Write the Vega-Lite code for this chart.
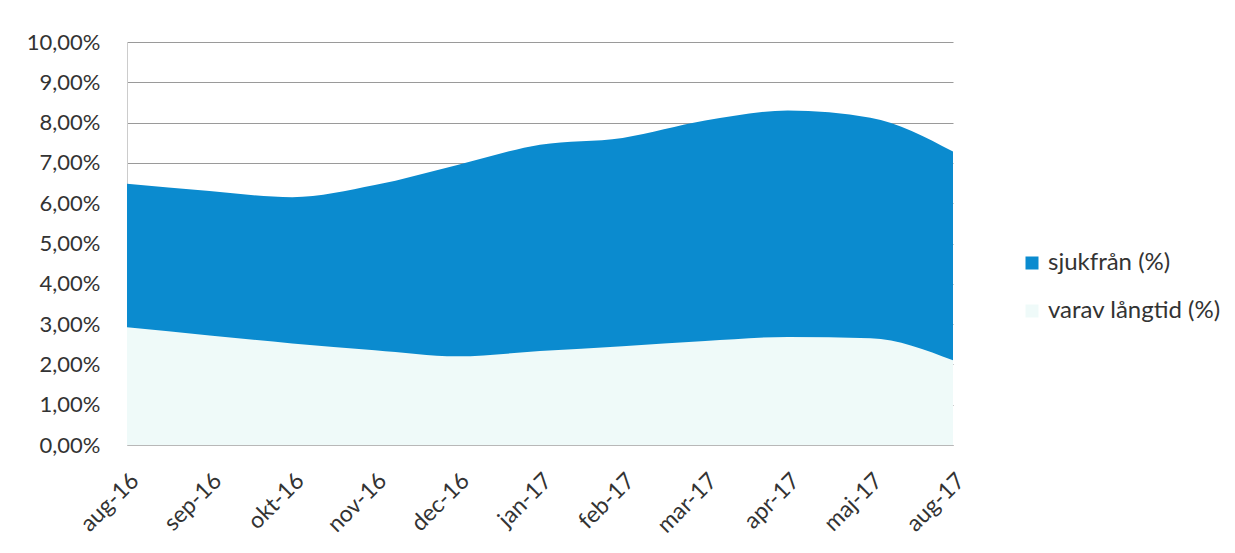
{
  "$schema": "https://vega.github.io/schema/vega-lite/v6.json",
  "autosize": {"type": "none"},
  "width": 826,
  "height": 403,
  "padding": {"left": 127, "top": 42, "right": 282, "bottom": 108},
  "background": "white",
  "config": {
    "font": "Lato",
    "view": {"stroke": null},
    "axis": {"labelFont": "Lato", "labelColor": "#333333", "labelFontSize": 22},
    "legend": {"padding": 0}
  },
  "data": {
    "values": [
      {"month": "aug-16", "series": "sjukfrån (%)", "value": 6.48},
      {"month": "sep-16", "series": "sjukfrån (%)", "value": 6.3},
      {"month": "okt-16", "series": "sjukfrån (%)", "value": 6.15},
      {"month": "nov-16", "series": "sjukfrån (%)", "value": 6.45},
      {"month": "dec-16", "series": "sjukfrån (%)", "value": 6.95},
      {"month": "jan-17", "series": "sjukfrån (%)", "value": 7.45},
      {"month": "feb-17", "series": "sjukfrån (%)", "value": 7.62},
      {"month": "mar-17", "series": "sjukfrån (%)", "value": 8.05},
      {"month": "apr-17", "series": "sjukfrån (%)", "value": 8.3},
      {"month": "maj-17", "series": "sjukfrån (%)", "value": 8.12},
      {"month": "aug-17", "series": "sjukfrån (%)", "value": 7.28},
      {"month": "aug-16", "series": "varav långtid (%)", "value": 2.92},
      {"month": "sep-16", "series": "varav långtid (%)", "value": 2.72},
      {"month": "okt-16", "series": "varav långtid (%)", "value": 2.52},
      {"month": "nov-16", "series": "varav långtid (%)", "value": 2.35},
      {"month": "dec-16", "series": "varav långtid (%)", "value": 2.2},
      {"month": "jan-17", "series": "varav långtid (%)", "value": 2.33},
      {"month": "feb-17", "series": "varav långtid (%)", "value": 2.45},
      {"month": "mar-17", "series": "varav långtid (%)", "value": 2.58},
      {"month": "apr-17", "series": "varav långtid (%)", "value": 2.68},
      {"month": "maj-17", "series": "varav långtid (%)", "value": 2.65},
      {"month": "aug-17", "series": "varav långtid (%)", "value": 2.1}
    ]
  },
  "encoding": {
    "x": {
      "field": "month",
      "type": "ordinal",
      "sort": null,
      "scale": {"type": "point", "padding": 0},
      "axis": {
        "title": null,
        "labelAngle": -45,
        "labelAlign": "right",
        "labelBaseline": "top",
        "labelPadding": 24,
        "labelFontSize": 23,
        "ticks": false,
        "domainColor": "#b8b8b8",
        "grid": false
      }
    },
    "y": {
      "field": "value",
      "type": "quantitative",
      "scale": {"domain": [0, 10], "nice": false},
      "stack": null,
      "axis": {
        "title": null,
        "values": [0, 1, 2, 3, 4, 5, 6, 7, 8, 9, 10],
        "labelExpr": "replace(format(datum.value, '.2f'), '.', ',') + '%'",
        "ticks": false,
        "labelPadding": 27,
        "domainColor": "#cccccc",
        "gridColor": "#9a9a9a",
        "gridWidth": 1
      }
    },
    "color": {
      "field": "series",
      "type": "nominal",
      "scale": {"domain": ["sjukfrån (%)", "varav långtid (%)"], "range": ["#0b8bcf", "#effaf9"]},
      "legend": {
        "title": null,
        "orient": "none",
        "legendX": 893,
        "legendY": 209,
        "symbolType": "square",
        "symbolSize": 169,
        "symbolStrokeWidth": 0,
        "labelFontSize": 24,
        "labelFont": "Lato",
        "labelColor": "#333333",
        "labelOffset": 4,
        "labelLimit": 400,
        "rowPadding": 24
      }
    }
  },
  "layer": [
    {
      "transform": [{"filter": "datum.series === 'sjukfrån (%)'"}],
      "mark": {"type": "area", "opacity": 1, "interpolate": "monotone"}
    },
    {
      "transform": [{"filter": "datum.series === 'varav långtid (%)'"}],
      "mark": {"type": "area", "opacity": 1, "interpolate": "monotone"}
    }
  ]
}
